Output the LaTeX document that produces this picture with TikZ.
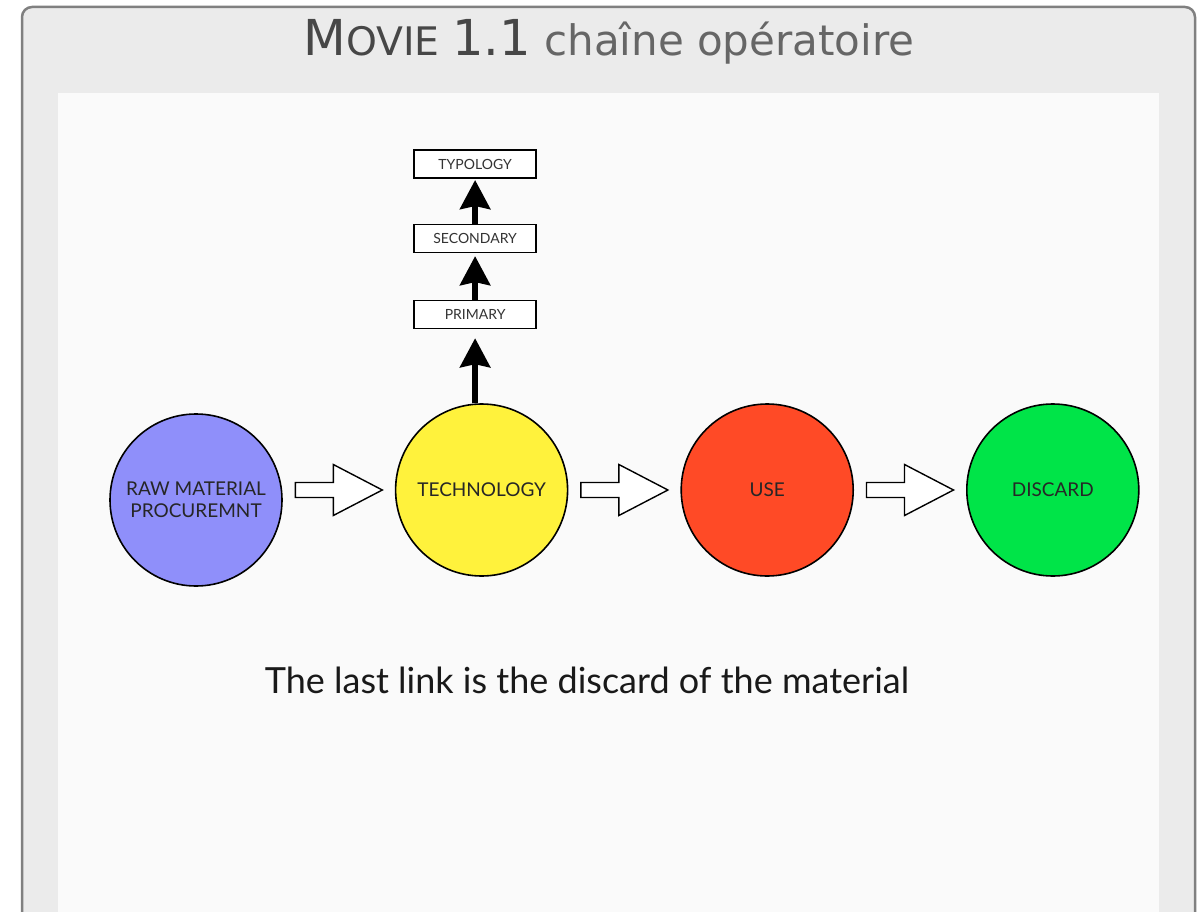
\documentclass[tikz,border=0pt]{standalone}
\usepackage{fontspec}
\setmainfont{Lato}
\newfontfamily\titlefont{DejaVu Sans}
\usetikzlibrary{positioning,arrows.meta,calc}
\definecolor{framegray}{RGB}{128,128,128}
\definecolor{framefill}{RGB}{235,235,235}
\definecolor{panelfill}{RGB}{250,250,250}
\definecolor{rawblue}{RGB}{143,143,250}
\definecolor{techyellow}{RGB}{255,242,60}
\definecolor{usered}{RGB}{255,74,38}
\definecolor{discgreen}{RGB}{0,228,72}

\begin{document}
\begin{tikzpicture}[
    x=1pt, y=-1pt,
    stage/.style={circle, draw=black, line width=1.6pt, minimum size=172pt, inner sep=0pt, align=center, font=\fontsize{19}{22}\selectfont, text=black!85},
    tbox/.style={rectangle, draw=black, line width=1.6pt, fill=white, minimum width=122pt, minimum height=28pt, inner sep=0pt, font=\fontsize{14}{14}\selectfont, text=black!80},
    uparrow/.style={-{Stealth[length=29pt, width=30pt, inset=3pt]}, line width=6pt},
    hollow/.style={draw=black, line width=1.4pt, fill=white, line join=miter}
]
\useasboundingbox (0,0) rectangle (1201,912);
% frame and panel
\draw[framegray, fill=framefill, line width=2.5pt, rounded corners=10pt] (22,7) rectangle (1195,940);
\fill[panelfill] (58,93) rectangle (1159,930);
\node[font=\titlefont\fontsize{42}{43}\selectfont] (title) at (609,42)
  {\textcolor{black!72}{\fontsize{49.5}{50}\selectfont M\fontsize{39.3}{40}\selectfont OVIE \fontsize{49.5}{50}\selectfont 1.1} \textcolor{black!60}{chaîne opératoire}};

% stages
\node[stage, fill=rawblue] (raw) at (196,500) {RAW MATERIAL\\PROCUREMNT};
\node[stage, fill=techyellow, right=112pt of raw, yshift=10pt] (tech) {TECHNOLOGY};
\node[stage, fill=usered, right=112pt of tech] (use) {USE};
\node[stage, fill=discgreen, right=112pt of use] (discard) {DISCARD};

% boxes over technology
\node[tbox, above=74pt of tech, xshift=-6.5pt] (primary) {PRIMARY};
\node[tbox, above=46.5pt of primary] (secondary) {SECONDARY};
\node[tbox, above=44.5pt of secondary] (typology) {TYPOLOGY};

\draw[uparrow, shorten >=9pt] (tech.north -| primary.south) -- (primary.south);
\draw[uparrow, shorten >=3pt] (primary.north) -- (secondary.south);
\draw[uparrow, shorten >=1pt] (secondary.north) -- (typology.south);

% hollow arrows between stages
\foreach \a/\b in {raw/tech, tech/use, use/discard} {
  \coordinate (m) at ($(\a.east |- \b.west)!0.5!(\b.west)$);
  \draw[hollow] ($(m)+(-43.5,-7.5)$) -- ($(m)+(-5.5,-7.5)$) -- ($(m)+(-5.5,-25.5)$)
    -- ($(m)+(43.5,0)$) -- ($(m)+(-5.5,25.5)$) -- ($(m)+(-5.5,7.5)$) -- ($(m)+(-43.5,7.5)$) -- cycle;
}

\node[font=\fontsize{36}{38}\selectfont, text=black!90] (caption) at (587,680) {The last link is the discard of the material};
\end{tikzpicture}
\end{document}
